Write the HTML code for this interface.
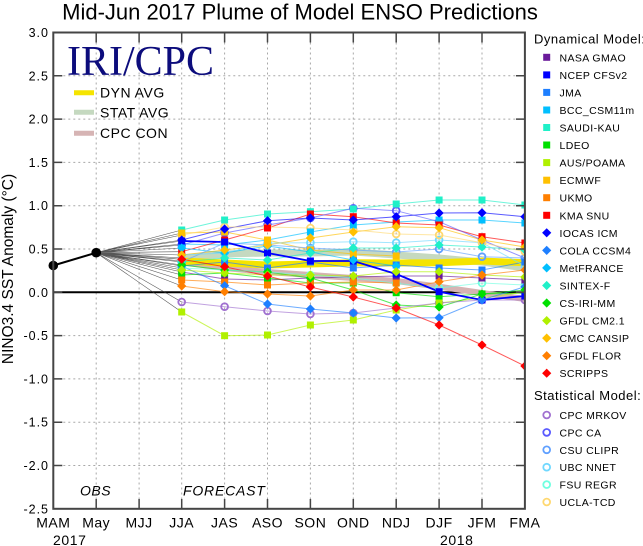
<!DOCTYPE html>
<html><head><meta charset="utf-8"><style>
html,body{margin:0;padding:0;background:#fff;}
svg{display:block;font-family:"Liberation Sans",Arial,sans-serif;}
</style></head><body>
<svg width="643" height="546" viewBox="0 0 643 546" xmlns="http://www.w3.org/2000/svg">
<defs>
<clipPath id="pc"><rect x="53.3" y="32.5" width="471.6" height="476.3"/></clipPath>
<rect id="s" x="-3.5" y="-3.5" width="7" height="7"/>
<path id="d" d="M0,-4.6L4.6,0L0,4.6L-4.6,0Z"/>
<circle id="c" r="3.4" fill="none" stroke-width="1.8"/>
</defs>
<rect width="643" height="546" fill="#fff"/>
<text x="300" y="19.5" font-size="22" text-anchor="middle">Mid-Jun 2017 Plume of Model ENSO Predictions</text>

<!-- grid -->
<g stroke="#a8a8a8" stroke-width="1" stroke-dasharray="2,3" fill="none">
<path d="M53.3,75.8H525M53.3,119.1H525M53.3,162.4H525M53.3,205.7H525M53.3,249H525M53.3,335.6H525M53.3,378.9H525M53.3,422.2H525M53.3,465.5H525"/>
<path d="M96.2,32.5V509M139.1,32.5V509M181.7,32.5V509M224.6,32.5V509M267.5,32.5V509M310.4,32.5V509M353.3,32.5V509M396.2,32.5V509M439.1,32.5V509M482,32.5V509"/>
</g>

<!-- IRI/CPC legend -->
<text x="67" y="75" font-family="'Liberation Serif','Times New Roman',serif" font-size="42" fill="#0c0c7c">IRI/CPC</text>
<line x1="74" y1="92.7" x2="94" y2="92.7" stroke="#f5e400" stroke-width="5"/>
<line x1="74" y1="112.3" x2="94" y2="112.3" stroke="#c5d9c0" stroke-width="5"/>
<line x1="74" y1="133.3" x2="94" y2="133.3" stroke="#d6b4b4" stroke-width="5"/>
<g font-size="14" letter-spacing="0.5">
<text x="100" y="97.5">DYN AVG</text>
<text x="100" y="117.5">STAT AVG</text>
<text x="100" y="138">CPC CON</text>
</g>

<line x1="53.3" y1="292.3" x2="525" y2="292.3" stroke="#000" stroke-width="2"/>

<g clip-path="url(#pc)">
<!-- connectors from May -->
<g stroke="#3a3a3a" stroke-width="0.6" stroke-opacity="0.85">
<path d="M96.2,252.7L181.7,272M96.2,252.7L181.7,241M96.2,252.7L181.7,266M96.2,252.7L181.7,244M96.2,252.7L181.7,230M96.2,252.7L181.7,275M96.2,252.7L181.7,312M96.2,252.7L181.7,233M96.2,252.7L181.7,280M96.2,252.7L181.7,251.7M96.2,252.7L181.7,240M96.2,252.7L181.7,248M96.2,252.7L181.7,262M96.2,252.7L181.7,265M96.2,252.7L181.7,270M96.2,252.7L181.7,255M96.2,252.7L181.7,286M96.2,252.7L181.7,259.3M96.2,252.7L181.7,302M96.2,252.7L181.7,245M96.2,252.7L181.7,268M96.2,252.7L181.7,235M96.2,252.7L181.7,261M96.2,252.7L181.7,258"/>
</g>
<!-- averages -->
<polyline fill="none" stroke="#c5d9c0" stroke-width="7" points="181.7,258 224.6,254 267.5,253 310.4,253 353.3,252 396.2,255 439.1,258 482,262 524.9,268"/>
<polyline fill="none" stroke="#d6b4b4" stroke-width="6" points="181.7,262 224.6,268 267.5,272 310.4,275 353.3,278 396.2,281 439.1,286.7 482,293 524.9,299"/>
<polyline fill="none" stroke="#f5e400" stroke-width="7" points="181.7,261 224.6,263 267.5,265 310.4,264 353.3,262.7 396.2,263 439.1,262.7 482,261 524.9,262.7"/>

<!-- model lines -->
<g fill="none" stroke-width="1" stroke-opacity="0.65">
<polyline stroke="#6a1b9a" points="181.7,272 224.6,279 267.5,280 310.4,278 353.3,277 396.2,276 439.1,276 482,278 524.9,280"/>
<polyline stroke="#1e7fff" points="181.7,266 224.6,262 267.5,268 310.4,262 353.3,268 396.2,265 439.1,268 482,270 524.9,262"/>
<polyline stroke="#00bfff" points="181.7,244 224.6,245 267.5,240 310.4,232 353.3,225 396.2,222 439.1,220 482,220 524.9,223"/>
<polyline stroke="#20f0c8" points="181.7,230 224.6,220 267.5,214 310.4,211.7 353.3,209 396.2,204 439.1,200 482,200 524.9,205"/>
<polyline stroke="#00e000" points="181.7,275 224.6,273 267.5,278 310.4,283 353.3,283 396.2,292.7 439.1,296.7 482,294 524.9,293"/>
<polyline stroke="#b0f000" points="181.7,312 224.6,335.7 267.5,335 310.4,325 353.3,320 396.2,310 439.1,303 482,298 524.9,292"/>
<polyline stroke="#ffc000" points="181.7,233 224.6,232 267.5,240 310.4,250 353.3,254 396.2,256"/>
<polyline stroke="#ff7f00" points="181.7,280 224.6,282 267.5,285 310.4,283 353.3,282 396.2,283"/>
<polyline stroke="#ff0000" points="181.7,251.7 224.6,240 267.5,228 310.4,214 353.3,216.7 396.2,223 439.1,225 482,236.7 524.9,243"/>
<polyline stroke="#0000ff" points="181.7,240 224.6,229 267.5,220.7 310.4,218 353.3,220 396.2,216.7 439.1,213 482,212.7 524.9,216.7"/>
<polyline stroke="#1e7fff" points="181.7,266 224.6,285.7 267.5,304 310.4,309 353.3,313 396.2,318 439.1,317.7 482,300 524.9,286.7"/>
<polyline stroke="#00bfff" points="181.7,248 224.6,253 267.5,246 310.4,252 353.3,260 396.2,266"/>
<polyline stroke="#20f0c8" points="181.7,262 224.6,258 267.5,260 310.4,253 353.3,248 396.2,248 439.1,245 482,247 524.9,250"/>
<polyline stroke="#00e000" points="181.7,265 224.6,270 267.5,272 310.4,278 353.3,290 396.2,305 439.1,307 482,294 524.9,290"/>
<polyline stroke="#b0f000" points="181.7,270 224.6,273 267.5,275 310.4,275 353.3,276 396.2,271.7 439.1,271.7 482,275 524.9,277"/>
<polyline stroke="#ffc000" points="181.7,255 224.6,250 267.5,245 310.4,238 353.3,232 396.2,226.7 439.1,227.7 482,240 524.9,247"/>
<polyline stroke="#ff7f00" points="181.7,286 224.6,291.7 267.5,294 310.4,296 353.3,290 396.2,290 439.1,281.7 482,275 524.9,270"/>
<polyline stroke="#ff0000" points="181.7,259.3 224.6,266.7 267.5,276 310.4,287 353.3,297 396.2,308 439.1,325 482,345 524.9,366"/>
<polyline stroke="#a070d0" points="181.7,302 224.6,306.7 267.5,311 310.4,314 353.3,313 396.2,308 439.1,303 482,300 524.9,300"/>
<polyline stroke="#5a5aff" points="181.7,245 224.6,233 267.5,225 310.4,218 353.3,208.3 396.2,210.7 439.1,221.7 482,240 524.9,258"/>
<polyline stroke="#60a0ff" points="181.7,262 224.6,243 267.5,245 310.4,248 353.3,250 396.2,252 439.1,249 482,256.7 524.9,258"/>
<polyline stroke="#70d8ff" points="181.7,255 224.6,253 267.5,243 310.4,242.7 353.3,241.7 396.2,242.7 439.1,240 482,242.7 524.9,266"/>
<polyline stroke="#70ffe0" points="181.7,268 224.6,270 267.5,272 310.4,275 353.3,278 396.2,283.3 439.1,288 482,283 524.9,285"/>
<polyline stroke="#ffd870" points="181.7,235 224.6,227 267.5,227 310.4,228 353.3,230 396.2,234 439.1,235 482,242.7 524.9,251.7"/>
</g>
<polyline fill="none" stroke="#0000ff" stroke-width="1.8" points="181.7,241 224.6,242 267.5,253 310.4,261 353.3,261 396.2,274 439.1,291.7 482,300 524.9,296"/>

<!-- statistical markers -->
<g stroke="#a070d0"><use href="#c" x="181.7" y="302"/><use href="#c" x="224.6" y="306.7"/><use href="#c" x="267.5" y="311"/><use href="#c" x="310.4" y="314"/><use href="#c" x="353.3" y="313"/><use href="#c" x="396.2" y="308"/><use href="#c" x="439.1" y="303"/><use href="#c" x="482" y="300"/><use href="#c" x="524.9" y="300"/></g>
<g stroke="#5a5aff"><use href="#c" x="181.7" y="245"/><use href="#c" x="224.6" y="233"/><use href="#c" x="267.5" y="225"/><use href="#c" x="310.4" y="218"/><use href="#c" x="353.3" y="208.3"/><use href="#c" x="396.2" y="210.7"/><use href="#c" x="439.1" y="221.7"/><use href="#c" x="482" y="240"/><use href="#c" x="524.9" y="258"/></g>
<g stroke="#60a0ff"><use href="#c" x="181.7" y="262"/><use href="#c" x="224.6" y="243"/><use href="#c" x="267.5" y="245"/><use href="#c" x="310.4" y="248"/><use href="#c" x="353.3" y="250"/><use href="#c" x="396.2" y="252"/><use href="#c" x="439.1" y="249"/><use href="#c" x="482" y="256.7"/><use href="#c" x="524.9" y="258"/></g>
<g stroke="#70d8ff"><use href="#c" x="181.7" y="255"/><use href="#c" x="224.6" y="253"/><use href="#c" x="267.5" y="243"/><use href="#c" x="310.4" y="242.7"/><use href="#c" x="353.3" y="241.7"/><use href="#c" x="396.2" y="242.7"/><use href="#c" x="439.1" y="240"/><use href="#c" x="482" y="242.7"/><use href="#c" x="524.9" y="266"/></g>
<g stroke="#70ffe0"><use href="#c" x="181.7" y="268"/><use href="#c" x="224.6" y="270"/><use href="#c" x="267.5" y="272"/><use href="#c" x="310.4" y="275"/><use href="#c" x="353.3" y="278"/><use href="#c" x="396.2" y="283.3"/><use href="#c" x="439.1" y="288"/><use href="#c" x="482" y="283"/><use href="#c" x="524.9" y="285"/></g>
<g stroke="#ffd870"><use href="#c" x="181.7" y="235"/><use href="#c" x="224.6" y="227"/><use href="#c" x="267.5" y="227"/><use href="#c" x="310.4" y="228"/><use href="#c" x="353.3" y="230"/><use href="#c" x="396.2" y="234"/><use href="#c" x="439.1" y="235"/><use href="#c" x="482" y="242.7"/><use href="#c" x="524.9" y="251.7"/></g>

<!-- dynamical square markers -->
<g fill="#6a1b9a"><use href="#s" x="181.7" y="272"/><use href="#s" x="224.6" y="279"/><use href="#s" x="267.5" y="280"/><use href="#s" x="310.4" y="278"/><use href="#s" x="353.3" y="277"/><use href="#s" x="396.2" y="276"/><use href="#s" x="439.1" y="276"/><use href="#s" x="482" y="278"/><use href="#s" x="524.9" y="280"/></g>
<g fill="#1e7fff"><use href="#s" x="181.7" y="266"/><use href="#s" x="224.6" y="262"/><use href="#s" x="267.5" y="268"/><use href="#s" x="310.4" y="262"/><use href="#s" x="353.3" y="268"/><use href="#s" x="396.2" y="265"/><use href="#s" x="439.1" y="268"/><use href="#s" x="482" y="270"/><use href="#s" x="524.9" y="262"/></g>
<g fill="#00bfff"><use href="#s" x="181.7" y="244"/><use href="#s" x="224.6" y="245"/><use href="#s" x="267.5" y="240"/><use href="#s" x="310.4" y="232"/><use href="#s" x="353.3" y="225"/><use href="#s" x="396.2" y="222"/><use href="#s" x="439.1" y="220"/><use href="#s" x="482" y="220"/><use href="#s" x="524.9" y="223"/></g>
<g fill="#20f0c8"><use href="#s" x="181.7" y="230"/><use href="#s" x="224.6" y="220"/><use href="#s" x="267.5" y="214"/><use href="#s" x="310.4" y="211.7"/><use href="#s" x="353.3" y="209"/><use href="#s" x="396.2" y="204"/><use href="#s" x="439.1" y="200"/><use href="#s" x="482" y="200"/><use href="#s" x="524.9" y="205"/></g>
<g fill="#00e000"><use href="#s" x="181.7" y="275"/><use href="#s" x="224.6" y="273"/><use href="#s" x="267.5" y="278"/><use href="#s" x="310.4" y="283"/><use href="#s" x="353.3" y="283"/><use href="#s" x="396.2" y="292.7"/><use href="#s" x="439.1" y="296.7"/><use href="#s" x="482" y="294"/><use href="#s" x="524.9" y="293"/></g>
<g fill="#b0f000"><use href="#s" x="181.7" y="312"/><use href="#s" x="224.6" y="335.7"/><use href="#s" x="267.5" y="335"/><use href="#s" x="310.4" y="325"/><use href="#s" x="353.3" y="320"/><use href="#s" x="396.2" y="310"/><use href="#s" x="439.1" y="303"/><use href="#s" x="482" y="298"/><use href="#s" x="524.9" y="292"/></g>
<g fill="#ffc000"><use href="#s" x="181.7" y="233"/><use href="#s" x="224.6" y="232"/><use href="#s" x="267.5" y="240"/><use href="#s" x="310.4" y="250"/><use href="#s" x="353.3" y="254"/><use href="#s" x="396.2" y="256"/></g>
<g fill="#ff7f00"><use href="#s" x="181.7" y="280"/><use href="#s" x="224.6" y="282"/><use href="#s" x="267.5" y="285"/><use href="#s" x="310.4" y="283"/><use href="#s" x="353.3" y="282"/><use href="#s" x="396.2" y="283"/></g>
<g fill="#ff0000"><use href="#s" x="181.7" y="251.7"/><use href="#s" x="224.6" y="240"/><use href="#s" x="267.5" y="228"/><use href="#s" x="310.4" y="214"/><use href="#s" x="353.3" y="216.7"/><use href="#s" x="396.2" y="223"/><use href="#s" x="439.1" y="225"/><use href="#s" x="482" y="236.7"/><use href="#s" x="524.9" y="243"/></g>
<g fill="#0000ff"><use href="#s" x="181.7" y="241"/><use href="#s" x="224.6" y="242"/><use href="#s" x="267.5" y="253"/><use href="#s" x="310.4" y="261"/><use href="#s" x="353.3" y="261"/><use href="#s" x="396.2" y="274"/><use href="#s" x="439.1" y="291.7"/><use href="#s" x="482" y="300"/><use href="#s" x="524.9" y="296"/></g>

<!-- dynamical diamond markers -->
<g fill="#0000ff"><use href="#d" x="181.7" y="240"/><use href="#d" x="224.6" y="229"/><use href="#d" x="267.5" y="220.7"/><use href="#d" x="310.4" y="218"/><use href="#d" x="353.3" y="220"/><use href="#d" x="396.2" y="216.7"/><use href="#d" x="439.1" y="213"/><use href="#d" x="482" y="212.7"/><use href="#d" x="524.9" y="216.7"/></g>
<g fill="#1e7fff"><use href="#d" x="181.7" y="266"/><use href="#d" x="224.6" y="285.7"/><use href="#d" x="267.5" y="304"/><use href="#d" x="310.4" y="309"/><use href="#d" x="353.3" y="313"/><use href="#d" x="396.2" y="318"/><use href="#d" x="439.1" y="317.7"/><use href="#d" x="482" y="300"/><use href="#d" x="524.9" y="286.7"/></g>
<g fill="#00bfff"><use href="#d" x="181.7" y="248"/><use href="#d" x="224.6" y="253"/><use href="#d" x="267.5" y="246"/><use href="#d" x="310.4" y="252"/><use href="#d" x="353.3" y="260"/><use href="#d" x="396.2" y="266"/></g>
<g fill="#20f0c8"><use href="#d" x="181.7" y="262"/><use href="#d" x="224.6" y="258"/><use href="#d" x="267.5" y="260"/><use href="#d" x="310.4" y="253"/><use href="#d" x="353.3" y="248"/><use href="#d" x="396.2" y="248"/><use href="#d" x="439.1" y="245"/><use href="#d" x="482" y="247"/><use href="#d" x="524.9" y="250"/></g>
<g fill="#00e000"><use href="#d" x="181.7" y="265"/><use href="#d" x="224.6" y="270"/><use href="#d" x="267.5" y="272"/><use href="#d" x="310.4" y="278"/><use href="#d" x="353.3" y="290"/><use href="#d" x="396.2" y="305"/><use href="#d" x="439.1" y="307"/><use href="#d" x="482" y="294"/><use href="#d" x="524.9" y="290"/></g>
<g fill="#b0f000"><use href="#d" x="181.7" y="270"/><use href="#d" x="224.6" y="273"/><use href="#d" x="267.5" y="275"/><use href="#d" x="310.4" y="275"/><use href="#d" x="353.3" y="276"/><use href="#d" x="396.2" y="271.7"/><use href="#d" x="439.1" y="271.7"/><use href="#d" x="482" y="275"/><use href="#d" x="524.9" y="277"/></g>
<g fill="#ffc000"><use href="#d" x="181.7" y="255"/><use href="#d" x="224.6" y="250"/><use href="#d" x="267.5" y="245"/><use href="#d" x="310.4" y="238"/><use href="#d" x="353.3" y="232"/><use href="#d" x="396.2" y="226.7"/><use href="#d" x="439.1" y="227.7"/><use href="#d" x="482" y="240"/><use href="#d" x="524.9" y="247"/></g>
<g fill="#ff7f00"><use href="#d" x="181.7" y="286"/><use href="#d" x="224.6" y="291.7"/><use href="#d" x="267.5" y="294"/><use href="#d" x="310.4" y="296"/><use href="#d" x="353.3" y="290"/><use href="#d" x="396.2" y="290"/><use href="#d" x="439.1" y="281.7"/><use href="#d" x="482" y="275"/><use href="#d" x="524.9" y="270"/></g>
<g fill="#ff0000"><use href="#d" x="181.7" y="259.3"/><use href="#d" x="224.6" y="266.7"/><use href="#d" x="267.5" y="276"/><use href="#d" x="310.4" y="287"/><use href="#d" x="353.3" y="297"/><use href="#d" x="396.2" y="308"/><use href="#d" x="439.1" y="325"/><use href="#d" x="482" y="345"/><use href="#d" x="524.9" y="366"/></g>
</g>

<!-- observations -->
<line x1="53.3" y1="265.5" x2="96.2" y2="252.7" stroke="#000" stroke-width="2"/>
<circle cx="53.3" cy="265.5" r="4.8" fill="#000"/>
<circle cx="96.2" cy="252.7" r="4.8" fill="#000"/>

<!-- frame -->
<rect x="53.3" y="32.5" width="471.6" height="476.3" fill="none" stroke="#454545" stroke-width="2"/>
<g stroke="#454545" stroke-width="1.5">
<path d="M53.3,75.8h9M53.3,119.1h9M53.3,162.4h9M53.3,205.7h9M53.3,249h9M53.3,292.3h9M53.3,335.6h9M53.3,378.9h9M53.3,422.2h9M53.3,465.5h9"/>
<path d="M525,75.8h-9M525,119.1h-9M525,162.4h-9M525,205.7h-9M525,249h-9M525,292.3h-9M525,335.6h-9M525,378.9h-9M525,422.2h-9M525,465.5h-9"/>
<path d="M96.2,509v-10M139.1,509v-10M181.7,509v-10M224.6,509v-10M267.5,509v-10M310.4,509v-10M353.3,509v-10M396.2,509v-10M439.1,509v-10M482,509v-10"/>
<path d="M96.2,32.5v10M139.1,32.5v10M181.7,32.5v10M224.6,32.5v10M267.5,32.5v10M310.4,32.5v10M353.3,32.5v10M396.2,32.5v10M439.1,32.5v10M482,32.5v10"/>
</g>

<!-- y tick labels -->
<g font-size="12.5" letter-spacing="1" text-anchor="end">
<text x="49" y="37">3.0</text>
<text x="49" y="80.3">2.5</text>
<text x="49" y="123.6">2.0</text>
<text x="49" y="166.9">1.5</text>
<text x="49" y="210.2">1.0</text>
<text x="49" y="253.5">0.5</text>
<text x="49" y="296.8">0.0</text>
<text x="49" y="340.1">-0.5</text>
<text x="49" y="383.4">-1.0</text>
<text x="49" y="426.7">-1.5</text>
<text x="49" y="470">-2.0</text>
<text x="49" y="513.3">-2.5</text>
</g>
<text transform="translate(13,269) rotate(-90)" font-size="15.5" text-anchor="middle">NINO3.4 SST Anomaly (°C)</text>

<!-- x labels -->
<g font-size="14" letter-spacing="0.5" text-anchor="middle">
<text x="53.3" y="527.5">MAM</text>
<text x="96.2" y="527.5">May</text>
<text x="139.1" y="527.5">MJJ</text>
<text x="181.7" y="527.5">JJA</text>
<text x="224.6" y="527.5">JAS</text>
<text x="267.5" y="527.5">ASO</text>
<text x="310.4" y="527.5">SON</text>
<text x="353.3" y="527.5">OND</text>
<text x="396.2" y="527.5">NDJ</text>
<text x="439.1" y="527.5">DJF</text>
<text x="482" y="527.5">JFM</text>
<text x="524.9" y="527.5">FMA</text>
</g>
<g font-size="14" letter-spacing="0.6">
<text x="53" y="545">2017</text>
<text x="440" y="545">2018</text>
</g>
<g font-size="14" font-style="italic">
<text x="80" y="495.5" letter-spacing="0.5">OBS</text>
<text x="183" y="495.5" letter-spacing="0.8">FORECAST</text>
</g>

<!-- right legend -->
<text x="534" y="43.3" font-size="13" letter-spacing="0.5">Dynamical Model:</text>
<g font-size="10.5" letter-spacing="0.4">
<use href="#s" x="546.7" y="57.3" fill="#6a1b9a"/><text x="559.5" y="61.3">NASA GMAO</text>
<use href="#s" x="546.7" y="74.9" fill="#0000ff"/><text x="559.5" y="78.9">NCEP CFSv2</text>
<use href="#s" x="546.7" y="92.4" fill="#1e7fff"/><text x="559.5" y="96.4">JMA</text>
<use href="#s" x="546.7" y="110" fill="#00bfff"/><text x="559.5" y="114">BCC_CSM11m</text>
<use href="#s" x="546.7" y="127.5" fill="#20f0c8"/><text x="559.5" y="131.5">SAUDI-KAU</text>
<use href="#s" x="546.7" y="145" fill="#00e000"/><text x="559.5" y="149">LDEO</text>
<use href="#s" x="546.7" y="162.6" fill="#b0f000"/><text x="559.5" y="166.6">AUS/POAMA</text>
<use href="#s" x="546.7" y="180.2" fill="#ffc000"/><text x="559.5" y="184.2">ECMWF</text>
<use href="#s" x="546.7" y="197.7" fill="#ff7f00"/><text x="559.5" y="201.7">UKMO</text>
<use href="#s" x="546.7" y="215.3" fill="#ff0000"/><text x="559.5" y="219.3">KMA SNU</text>
<use href="#d" x="546.7" y="232.8" fill="#0000ff"/><text x="559.5" y="236.8">IOCAS ICM</text>
<use href="#d" x="546.7" y="250.4" fill="#1e7fff"/><text x="559.5" y="254.4">COLA CCSM4</text>
<use href="#d" x="546.7" y="267.9" fill="#00bfff"/><text x="559.5" y="271.9">MetFRANCE</text>
<use href="#d" x="546.7" y="285.5" fill="#20f0c8"/><text x="559.5" y="289.5">SINTEX-F</text>
<use href="#d" x="546.7" y="303" fill="#00e000"/><text x="559.5" y="307">CS-IRI-MM</text>
<use href="#d" x="546.7" y="320.6" fill="#b0f000"/><text x="559.5" y="324.6">GFDL CM2.1</text>
<use href="#d" x="546.7" y="338.1" fill="#ffc000"/><text x="559.5" y="342.1">CMC CANSIP</text>
<use href="#d" x="546.7" y="355.7" fill="#ff7f00"/><text x="559.5" y="359.7">GFDL FLOR</text>
<use href="#d" x="546.7" y="373.2" fill="#ff0000"/><text x="559.5" y="377.2">SCRIPPS</text>
</g>
<text x="534" y="400" font-size="13" letter-spacing="0.5">Statistical Model:</text>
<g font-size="10.5" letter-spacing="0.4">
<use href="#c" x="546.7" y="415" stroke="#a070d0"/><text x="559.5" y="419">CPC MRKOV</text>
<use href="#c" x="546.7" y="432.4" stroke="#5a5aff"/><text x="559.5" y="436.4">CPC CA</text>
<use href="#c" x="546.7" y="449.8" stroke="#60a0ff"/><text x="559.5" y="453.8">CSU CLIPR</text>
<use href="#c" x="546.7" y="467.2" stroke="#70d8ff"/><text x="559.5" y="471.2">UBC NNET</text>
<use href="#c" x="546.7" y="484.6" stroke="#70ffe0"/><text x="559.5" y="488.6">FSU REGR</text>
<use href="#c" x="546.7" y="502" stroke="#ffd870"/><text x="559.5" y="506">UCLA-TCD</text>
</g>
</svg>
</body></html>
